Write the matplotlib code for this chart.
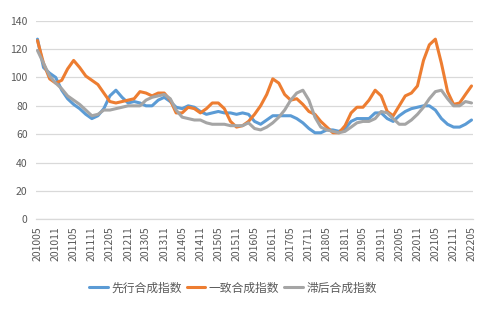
import matplotlib
matplotlib.use("Agg")
import matplotlib.pyplot as plt
import matplotlib.dates as mdates
import pandas as pd

plt.rcParams["font.family"] = ["Noto Sans CJK SC", "DejaVu Sans"]

# bi-monthly readings, 2010-05 .. 2022-05
dates = pd.date_range("2010-05-01", "2022-05-01", freq="2MS")

leading = [
    127, 107, 103, 100, 91, 85, 81, 78, 74, 71, 73, 78, 87, 91, 86, 82, 83, 82, 80, 80,
    84, 86, 83, 79, 78, 80, 79, 76, 74, 75, 76, 75, 75, 74, 75, 74, 69, 67, 70, 73,
    73, 73, 73, 71, 68, 64, 61, 61, 63, 63, 62, 64, 69, 71, 71, 71, 75, 75, 71, 69,
    73, 76, 78, 79, 80, 80, 77, 71, 67, 65, 65, 67, 70,
]
coincident = [
    126, 110, 99, 96, 98, 106, 112, 107, 101, 98, 95, 89, 83, 82, 83, 84, 85, 90, 89, 87,
    89, 89, 84, 75, 75, 79, 78, 75, 78, 82, 82, 78, 69, 65, 66, 69, 74, 80, 88, 99,
    96, 88, 84, 85, 81, 76, 74, 69, 65, 61, 61, 66, 75, 79, 79, 84, 91, 87, 76, 73,
    80, 87, 89, 94, 112, 123, 127, 110, 90, 81, 82, 88, 94,
]
lagging = [
    119, 110, 101, 96, 92, 87, 84, 81, 77, 73, 74, 77, 77, 78, 79, 80, 80, 80, 84, 86,
    87, 88, 85, 77, 72, 71, 70, 70, 68, 67, 67, 67, 66, 66, 66, 68, 64, 63, 65, 68,
    72, 77, 84, 89, 91, 84, 72, 65, 63, 62, 61, 62, 65, 68, 69, 69, 71, 76, 75, 71,
    67, 67, 70, 74, 79, 85, 90, 91, 85, 80, 80, 83, 82,
]

series = [
    ("先行合成指数", leading, "#5B9BD5"),
    ("一致合成指数", coincident, "#ED7D31"),
    ("滞后合成指数", lagging, "#A5A5A5"),
]

fig = plt.figure(figsize=(5.02, 3.23), dpi=100)
ax = fig.add_axes([36 / 502, 1 - 219.3 / 323, 437 / 502, 198.6 / 323])

for name, values, color in series:
    ax.plot(dates, values, color=color, lw=2.2, label=name, solid_capstyle="round",
            solid_joinstyle="round")

ax.set_ylim(0, 140)
ax.set_yticks(range(0, 141, 20))
ax.set_xlim(pd.Timestamp("2010-04-16"), pd.Timestamp("2022-05-16"))
ax.xaxis.set_major_locator(mdates.MonthLocator(bymonth=[5, 11]))
ax.xaxis.set_major_formatter(mdates.DateFormatter("%Y%m"))

ax.grid(axis="y", color="#D9D9D9", lw=0.9)
ax.set_axisbelow(True)
for side in ("top", "right", "left"):
    ax.spines[side].set_visible(False)
ax.spines["bottom"].set_color("#D9D9D9")
ax.spines["bottom"].set_linewidth(0.9)

ax.tick_params(axis="x", length=0, labelrotation=90, labelsize=7.5, colors="#595959", pad=5)
ax.tick_params(axis="y", length=0, labelsize=7.5, colors="#595959", pad=6)

fig.legend(loc="center", bbox_to_anchor=(233 / 502, 1 - 288 / 323), ncol=3, frameon=False,
           fontsize=8.5, handlelength=1.6, handletextpad=0.3, columnspacing=0.4,
           labelcolor="#595959")

fig.savefig("out.png", dpi=100, facecolor="white")
